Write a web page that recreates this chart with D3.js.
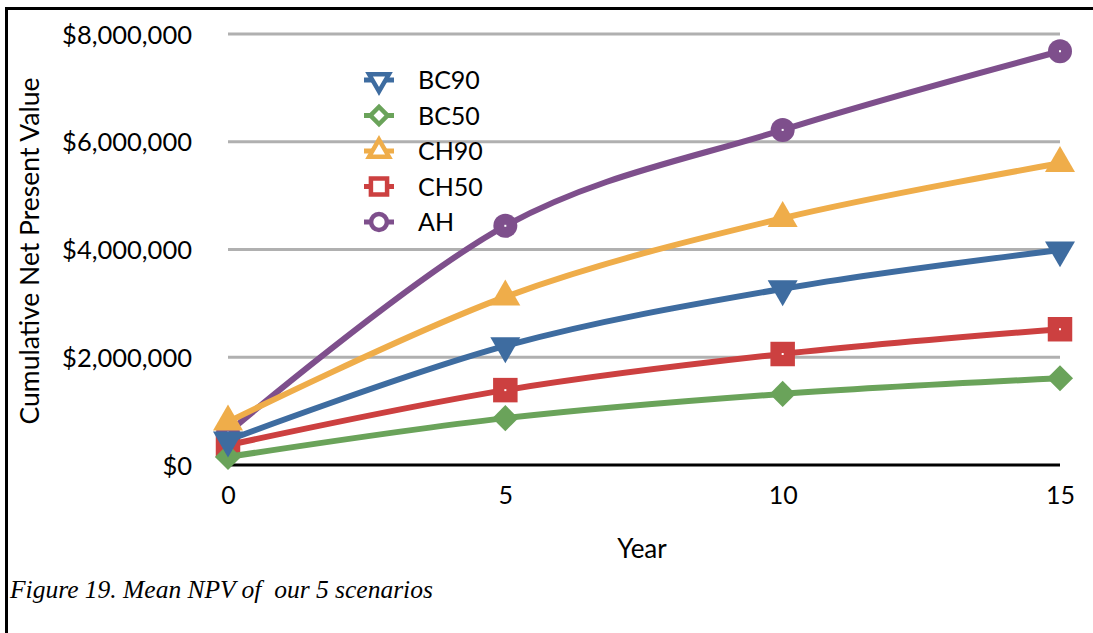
<!DOCTYPE html>
<html>
<head>
<meta charset="utf-8">
<script src="https://cdn.jsdelivr.net/npm/d3@7/dist/d3.min.js"></script>
<style>
  html, body { margin: 0; padding: 0; background: #fff; }
  svg { display: block; }
</style>
</head>
<body>
<svg id="chart" width="1093" height="633"></svg>
<script>
// Cumulative NPV by scenario, years 0–15
const years = [0, 5, 10, 15];
const seriesNames = ["BC90", "BC50", "CH90", "CH50", "AH"];
const bc90 = [460000, 2210000, 3270000, 3990000];
const bc50 = [150000, 870000, 1320000, 1610000];
const ch90 = [800000, 3120000, 4580000, 5600000];
const ch50 = [370000, 1390000, 2060000, 2520000];
const ah   = [600000, 4440000, 6220000, 7680000];
const yTicks = [0, 2000000, 4000000, 6000000, 8000000];
const xTicks = [0, 5, 10, 15];

const colors = {
  BC90: "#3E6CA0",
  BC50: "#6AA35A",
  CH90: "#EFAD4A",
  CH50: "#CC4040",
  AH:   "#7E4F8C"
};
const shapes = {
  BC90: "triangleDown",
  BC50: "diamond",
  CH90: "triangleUp",
  CH50: "square",
  AH:   "circle"
};
const valuesByName = { BC90: bc90, BC50: bc50, CH90: ch90, CH50: ch50, AH: ah };

const svg = d3.select("#chart");
const sansFont = "Lato, 'Open Sans', sans-serif";

// outer frame: top and left rules
svg.append("line").attr("x1", 5).attr("x2", 1093).attr("y1", 8.5).attr("y2", 8.5)
  .attr("stroke", "#000").attr("stroke-width", 3);
svg.append("line").attr("x1", 6.5).attr("x2", 6.5).attr("y1", 7).attr("y2", 633)
  .attr("stroke", "#000").attr("stroke-width", 3);

const plot = { left: 228, right: 1060, top: 34, bottom: 465 };
const x = d3.scaleLinear().domain([0, 15]).range([plot.left, plot.right]);
const y = d3.scaleLinear().domain([0, 8000000]).range([plot.bottom, plot.top]);

// horizontal gridlines
svg.append("g").selectAll("line")
  .data(yTicks.filter(d => d > 0))
  .join("line")
  .attr("x1", plot.left).attr("x2", plot.right)
  .attr("y1", d => y(d)).attr("y2", d => y(d))
  .attr("stroke", "#b0b0b0").attr("stroke-width", 3);

// y axis labels
const fmt = d => "$" + d3.format(",")(d);
const yAxis = d3.axisLeft(y).tickValues(yTicks).tickFormat(fmt).tickSize(0).tickPadding(36);
const gy = svg.append("g").attr("transform", `translate(${plot.left},0)`).call(yAxis);
gy.select(".domain").remove();
gy.selectAll("text").attr("font-family", sansFont).attr("font-size", 25.5).attr("fill", "#000")
  .attr("dy", "0.36em");

// x axis
const xAxis = d3.axisBottom(x).tickValues(xTicks).tickSize(0).tickPadding(21);
const gx = svg.append("g").attr("transform", `translate(0,${plot.bottom})`).call(xAxis);
gx.select(".domain").remove();
gx.selectAll("text").attr("font-family", sansFont).attr("font-size", 25).attr("fill", "#000");
svg.append("line").attr("x1", plot.left).attr("x2", plot.right)
  .attr("y1", plot.bottom).attr("y2", plot.bottom)
  .attr("stroke", "#000").attr("stroke-width", 3);

// axis titles
svg.append("text").attr("x", 642).attr("y", 558).attr("text-anchor", "middle")
  .attr("font-family", sansFont).attr("font-size", 26).text("Year");
svg.append("text")
  .attr("transform", "translate(39,251) rotate(-90)")
  .attr("text-anchor", "middle")
  .attr("font-family", sansFont).attr("font-size", 26.5)
  .text("Cumulative Net Present Value");

// caption
svg.append("text").attr("x", 10).attr("y", 598)
  .attr("font-family", "'Liberation Serif', 'DejaVu Serif', serif")
  .attr("font-style", "italic").attr("font-size", 25.5)
  .attr("xml:space", "preserve")
  .text("Figure 19. Mean NPV of  our 5 scenarios");

// marker path generator
function markerPath(shape, scale) {
  const s = scale;
  switch (shape) {
    case "triangleUp":   return d3.symbol(d3.symbolTriangle, 390 * s * s)();
    case "triangleDown": return d3.symbol(d3.symbolTriangle, 390 * s * s)();
    case "diamond":      return d3.symbol(d3.symbolSquare, 340 * s * s)();
    case "square":       return d3.symbol(d3.symbolSquare, 600 * s * s)();
    case "circle":       return d3.symbol(d3.symbolCircle, 452 * s * s)();
  }
}
function markerRotation(shape) {
  if (shape === "triangleDown") return 180;
  if (shape === "diamond") return 45;
  return 0;
}

// lines and markers
const line = d3.line()
  .x((d, i) => x(years[i]))
  .y(d => y(d))
  .curve(d3.curveCardinal.tension(0));

const drawOrder = ["AH", "CH50", "CH90", "BC50", "BC90"];
const seriesG = svg.append("g");
drawOrder.forEach(name => {
  const vals = valuesByName[name];
  const g = seriesG.append("g");
  g.append("path").datum(vals).attr("d", line)
    .attr("fill", "none").attr("stroke", colors[name]).attr("stroke-width", 6)
    .attr("stroke-linejoin", "round");
  const m = g.selectAll("g.mk").data(vals).join("g").attr("class", "mk")
    .attr("transform", (d, i) => `translate(${x(years[i])},${y(d)})`);
  m.append("path").attr("d", markerPath(shapes[name], 1))
    .attr("transform", `rotate(${markerRotation(shapes[name])})`)
    .attr("fill", colors[name]);
  if (name === "AH" || name === "CH50") {
    m.append("rect").attr("x", -1).attr("y", -1).attr("width", 2).attr("height", 2).attr("fill", "#fff");
  }
});

// legend
const legend = svg.append("g");
const legendRowY = d3.scalePoint().domain(seriesNames).range([80, 222]);
seriesNames.forEach(name => {
  const cy = legendRowY(name);
  const row = legend.append("g").attr("transform", `translate(379,${cy})`);
  row.append("line").attr("x1", -15).attr("x2", 15)
    .attr("stroke", colors[name]).attr("stroke-width", 5);
  row.append("path").attr("d", markerPath(shapes[name], 0.66))
    .attr("transform", `rotate(${markerRotation(shapes[name])})`)
    .attr("fill", "#fff").attr("stroke", colors[name]).attr("stroke-width", 4.5);
  row.append("text").attr("x", 39).attr("y", 0).attr("dy", "0.36em")
    .attr("font-family", sansFont).attr("font-size", 25).attr("fill", "#000")
    .text(name);
});
</script>
</body>
</html>
